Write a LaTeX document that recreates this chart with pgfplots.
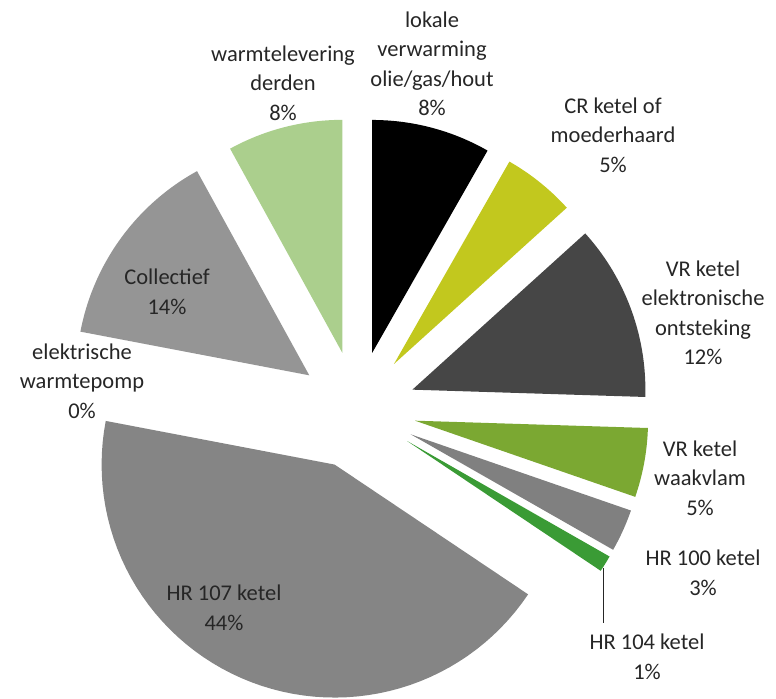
\documentclass[border=0pt]{standalone}
\usepackage{fontspec}
\setmainfont{Carlito}
\usepackage{pgfplots}
\pgfplotsset{compat=1.18}
\definecolor{cWarm}{HTML}{ABCF8D}
\definecolor{cLok}{HTML}{000000}
\definecolor{cCR}{HTML}{C2C81E}
\definecolor{cVRe}{HTML}{464646}
\definecolor{cVRw}{HTML}{7BA832}
\definecolor{cHR100}{HTML}{808080}
\definecolor{cHR104}{HTML}{3A9B35}
\definecolor{cHR107}{HTML}{858585}
\definecolor{cColl}{HTML}{959595}
\definecolor{txt}{HTML}{262626}
% slice: #1 cumulative start (%), #2 cumulative end (%), #3 colour
\newcommand{\slice}[3]{%
  \pgfmathsetmacro\aS{90-3.6*#1}%
  \pgfmathsetmacro\aE{90-3.6*#2}%
  \pgfmathsetmacro\aM{(\aS+\aE)/2}%
  \pgfmathsetmacro\ox{357+59*cos(\aM)}%
  \pgfmathsetmacro\oy{289+59*sin(\aM)}%
  \edef\doslice{\noexpand\addplot[fill=#3,draw=none,domain=\aE:\aS,samples=60,variable=\noexpand\t]
    ({\ox+233*cos(\noexpand\t)},{\oy+233*sin(\noexpand\t)}) -- (axis cs:\ox,\oy) -- cycle;}%
  \doslice
}
\begin{document}
\begin{tikzpicture}
\useasboundingbox (0,0) rectangle (776bp,699bp);
\begin{axis}[at={(0,0)}, anchor=south west, scale only axis,
  width=776bp, height=699bp, xmin=0, xmax=776, ymin=0, ymax=699,
  hide axis, clip=false]
% values (%): lokale 8.25, CR 5.05, VR elektr. 12.2, VR waakvlam 4.8,
% HR100 2.95, HR104 1.15, HR107 43.6, elektr. warmtepomp 0 (no visible slice),
% Collectief 14.0, warmtelevering 8.0
\slice{0}{8.25}{cLok}
\slice{8.25}{13.3}{cCR}
\slice{13.3}{25.5}{cVRe}
\slice{25.5}{30.3}{cVRw}
\slice{30.3}{33.25}{cHR100}
\slice{33.25}{34.4}{cHR104}
\slice{34.4}{78.0}{cHR107}
\slice{78.0}{92.0}{cColl}
\slice{92.0}{100}{cWarm}
\draw[txt, line width=0.8pt] (axis cs:603,131) -- (axis cs:603,76);
\tikzset{lab/.style={align=center, text=txt, inner sep=0pt,
  font={\fontsize{22.5bp}{29.5bp}\selectfont}}}
\node[lab] at (axis cs:283,616) {warmtelevering\\derden\\8\%};
\node[lab] at (axis cs:432,635) {lokale\\verwarming\\olie/gas/hout\\8\%};
\node[lab] at (axis cs:613,564) {CR ketel of\\moederhaard\\5\%};
\node[lab] at (axis cs:703,386) {VR ketel\\elektronische\\ontsteking\\12\%};
\node[lab] at (axis cs:700,221) {VR ketel\\waakvlam\\5\%};
\node[lab] at (axis cs:703,126) {HR 100 ketel\\3\%};
\node[lab] at (axis cs:647,42) {HR 104 ketel\\1\%};
\node[lab] at (axis cs:82,318) {elektrische\\warmtepomp\\0\%};
\node[lab] at (axis cs:167,407) {Collectief\\14\%};
\node[lab] at (axis cs:224,91) {HR 107 ketel\\44\%};
\end{axis}
\end{tikzpicture}
\end{document}
